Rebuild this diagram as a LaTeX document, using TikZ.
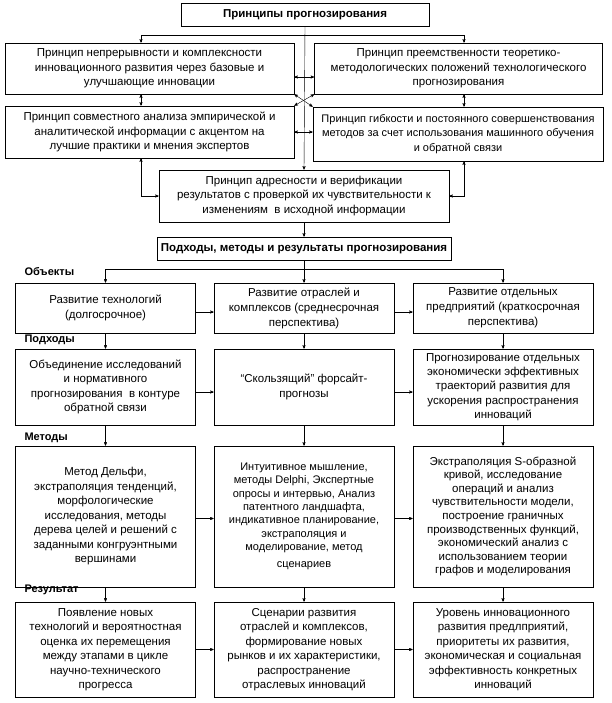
\documentclass[tikz,border=0pt]{standalone}
\usepackage{fontspec}
\setmainfont{Liberation Sans}
\usetikzlibrary{arrows}
\usetikzlibrary{positioning}
\usetikzlibrary{calc}

\begin{document}
\begin{tikzpicture}[->,>=stealth',x=1pt,y=-1pt]
		\tikzset{box/.style = {shape=rectangle, semithick, draw, align=center, inner sep=1pt, font=\fontsize{11.5}{14.5}\selectfont}}
		\tikzset{princ/.style = {box, minimum width=289pt, minimum height=52pt}}
		\tikzset{cell/.style = {box, minimum width=180pt}}
		\tikzset{rowlabel/.style = {anchor=west, font=\fontsize{11}{12}\selectfont\bfseries}}
		\useasboundingbox (0,0) rectangle (612,703);
		
		% principles
		\node[box, minimum width=248pt, minimum height=23pt, font=\fontsize{11.5}{14}\selectfont\bfseries] (PRINC) at (305,14.5) {Принципы прогнозирования};
		\node[princ, minimum height=51pt] (CONT) at (149.5,68.5)
		{Принцип непрерывности и комплексности\\
			инновационного развития через базовые и\\
			улучшающие инновации};
		\node[princ, minimum width=288pt, minimum height=51pt] (SUCC) at (458.5,68.5)
		{Принцип преемственности теоретико-\\
			методологических положений технологического\\
			прогнозирования};
		\node[princ] (JOINT) at (149.5,132)
		{Принцип совместного анализа эмпирической и\\
			аналитической информации с акцентом на\\
			лучшие практики и мнения экспертов};
		\node[princ, minimum width=290pt, minimum height=54pt, font=\fontsize{11}{14.5}\selectfont] (FLEX) at (458,134)
		{Принцип гибкости и постоянного совершенствования\\
			методов за счет использования машинного обучения\\
			и обратной связи};
		\node[princ, minimum width=290pt] (ADDR) at (304,196)
		{Принцип адресности и верификации\\
			результатов с проверкой их чувствительности к\\
			изменениям \ в исходной информации};
		\node[box, minimum width=294pt, minimum height=23pt, font=\fontsize{11.5}{14}\selectfont\bfseries] (APPR) at (304,248.5) {Подходы, методы и результаты прогнозирования};
		
		\coordinate (LX) at (141,35);
		\coordinate (RX) at (464,35);
		\draw (PRINC.south) -- (ADDR.north);
		\draw (PRINC.south |- LX) -| (CONT.north -| LX);
		\draw (PRINC.south |- RX) -| (SUCC.north -| RX);
		\draw[<->] (CONT.south -| LX) -- (JOINT.north -| LX);
		\draw[<->] (SUCC.south -| RX) -- (FLEX.north -| RX);
		\draw[<->] ($(CONT.east)+(0,8.5)$) -- ($(SUCC.west)+(0,8.5)$);
		\draw[<->] (JOINT.east) -- (JOINT.east -| FLEX.west);
		\draw[<->] (CONT.south east) -- (FLEX.north west);
		\draw[<->] (SUCC.south west) -- (JOINT.north east);
		\draw[<->] (JOINT.south -| LX) |- (ADDR.west);
		\draw[<->] (FLEX.south -| RX) |- (ADDR.east);
		\draw (ADDR.south) -- (APPR.north);
		
		% objects
		\node[rowlabel] (LOBJ) at (21,272) {Объекты};
		\node[cell, minimum height=50pt, font=\fontsize{11.5}{15}\selectfont] (O1) at (105.5,308) {Развитие технологий\\(долгосрочное)};
		\node[cell, minimum height=50pt, font=\fontsize{11.5}{15}\selectfont] (O2) at (304,308) {Развитие отраслей и\\комплексов (среднесрочная\\перспектива)};
		\node[cell, minimum height=50pt, font=\fontsize{11.5}{15}\selectfont] (O3) at (503,308) {Развитие отдельных\\предприятий (краткосрочная\\перспектива)};
		
		% approaches
		\node[rowlabel] (LAPP) at (21,340) {Подходы};
		\node[cell, minimum height=76pt] (A1) at (105.5,387)
		{Объединение исследований\\и нормативного\\прогнозирования \ в контуре\\обратной связи};
		\node[cell, minimum height=76pt] (A2) at (304,387) {“Скользящий” форсайт-\\прогнозы};
		\node[cell, minimum height=76pt, font=\fontsize{11.5}{14.2}\selectfont] (A3) at (503,387)
		{Прогнозирование отдельных\\экономически эффективных\\траекторий развития для\\ускорения распространения\\инноваций};
		
		% methods
		\node[rowlabel] (LMET) at (21,438) {Методы};
		\node[cell, minimum height=141pt] (M1) at (105.5,516.5)
		{Метод Дельфи,\\экстраполяция тенденций,\\морфологические\\исследования, методы\\дерева целей и решений с\\заданными конгруэнтными\\вершинами};
		\node[cell, minimum height=141pt, font=\fontsize{11}{13.3}\selectfont] (M2) at (304,516.5)
		{Интуитивное мышление,\\методы Delphi, Экспертные\\опросы и интервью, Анализ\\патентного ландшафта,\\индикативное планирование,\\экстраполяция и\\моделирование, метод\\[4pt]сценариев};
		\node[cell, minimum height=141pt, font=\fontsize{11.5}{13.6}\selectfont] (M3) at (503,516.5)
		{Экстраполяция S-образной\\кривой, исследование\\операций и анализ\\чувствительности модели,\\построение граничных\\производственных функций,\\экономический анализ с\\использованием теории\\графов и моделирования};
		
		% results
		\node[rowlabel] (LRES) at (21,590) {Результат};
		\node[cell, minimum height=95pt] (R1) at (105.5,649.5)
		{Появление новых\\технологий и вероятностная\\оценка их перемещения\\между этапами в цикле\\научно-технического\\прогресса};
		\node[cell, minimum height=95pt] (R2) at (304,649.5)
		{Сценарии развития\\отраслей и комплексов,\\формирование новых\\рынков и их характеристики,\\распространение\\отраслевых инноваций};
		\node[cell, minimum height=95pt] (R3) at (503,649.5)
		{Уровень инновационного\\развития предлприятий,\\приоритеты их развития,\\экономическая и социальная\\эффективность конкретных\\инноваций};
		
		\coordinate (FORK) at ($(APPR.south)+(0,9)$);
		\draw (APPR.south) -- (O2.north);
		\draw (FORK) -| (O1.north);
		\draw (FORK) -| (O3.north);
		\draw (O1.south) -- (A1.north);
		\draw (O2.south) -- (A2.north);
		\draw (O3.south) -- (A3.north);
		\draw (A1.south) -- (M1.north);
		\draw (A2.south) -- (M2.north);
		\draw (A3.south) -- (M3.north);
		\draw (M1.south) -- (R1.north);
		\draw (M2.south) -- (R2.north);
		\draw (M3.south) -- (R3.north);
		\draw ($(O1.east)+(0,4)$) -- ($(O2.west)+(0,4)$);
		\draw ($(O2.east)+(0,4)$) -- ($(O3.west)+(0,4)$);
		\draw ($(A1.east)+(0,5)$) -- ($(A2.west)+(0,5)$);
		\draw ($(A2.east)+(0,5)$) -- ($(A3.west)+(0,5)$);
		\draw ($(M1.east)+(0,2)$) -- ($(M2.west)+(0,2)$);
		\draw ($(M2.east)+(0,2)$) -- ($(M3.west)+(0,2)$);
		\draw (R1.east) -- (R2.west);
		\draw (R2.east) -- (R3.west);
		
\end{tikzpicture}
\end{document}
